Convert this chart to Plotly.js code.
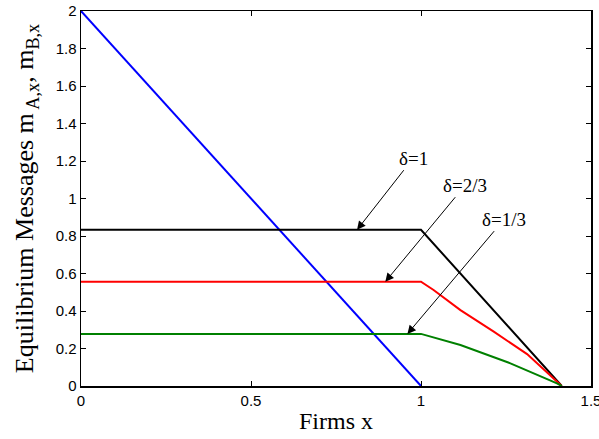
<!DOCTYPE html>
<html>
<head>
<meta charset="utf-8">
<script src="https://cdn.plot.ly/plotly-3.0.1.min.js"></script>
<style>
  html, body { margin: 0; padding: 0; background: #fff; }
  #chart { width: 599px; height: 439px; }
</style>
</head>
<body>
<div id="chart"></div>
<script>
(function() {
  // blue line
  var blueX = [0, 1];
  var blueY = [2, 0];

  // delta = 1
  var blackX = [0, 1, 1.414];
  var blackY = [0.833, 0.833, 0];

  // delta = 2/3
  var redX = [0, 1, 1.037, 1.116, 1.214, 1.312, 1.39, 1.414];
  var redY = [0.556, 0.556, 0.512, 0.405, 0.29, 0.17, 0.04, 0];

  // delta = 1/3
  var greenX = [0, 1, 1.116, 1.263, 1.4, 1.414];
  var greenY = [0.278, 0.278, 0.219, 0.121, 0.014, 0];

  var xTicks = [0, 0.5, 1, 1.5];
  var yTicks = [0, 0.2, 0.4, 0.6, 0.8, 1, 1.2, 1.4, 1.6, 1.8, 2];

  // labels: text, text centre (arrow tail side), arrow head
  var labels = [
    {t: 'δ=1',   tx: 0.977, ty: 1.215, hx: 0.812, hy: 0.833},
    {t: 'δ=2/3', tx: 1.13,  ty: 1.071, hx: 0.895, hy: 0.556},
    {t: 'δ=1/3', tx: 1.245, ty: 0.89,  hx: 0.96,  hy: 0.278}
  ];

  function line(x, y, color) {
    return {x: x, y: y, type: 'scatter', mode: 'lines',
            line: {color: color, width: 2}, hoverinfo: 'skip'};
  }

  var traces = [
    line(blueX, blueY, '#0000ff'),
    line(blackX, blackY, '#000000'),
    line(redX, redY, '#ff0000'),
    line(greenX, greenY, '#008000')
  ];

  var annotations = labels.map(function(l) {
    return {
      x: l.hx, y: l.hy, ax: l.tx, ay: l.ty, xref: 'x', yref: 'y',
      axref: 'x', ayref: 'y', text: l.t, showarrow: true,
      arrowhead: 2, arrowsize: 1.7, arrowwidth: 1, arrowcolor: '#000',
      font: {family: 'Liberation Serif, serif', size: 19, color: '#000'}
    };
  });

  var tickFont = {family: 'Liberation Sans, Arial, sans-serif', size: 15, color: '#000'};
  var axisBase = {
    showgrid: false, zeroline: false, showline: true, mirror: 'ticks',
    linecolor: '#000', linewidth: 1.5, ticks: 'inside', ticklen: 5,
    tickcolor: '#000', tickfont: tickFont, ticklabeloverflow: 'allow'
  };

  var layout = {
    width: 599, height: 439,
    margin: {l: 81, r: 8, t: 11, b: 53},
    showlegend: false,
    paper_bgcolor: '#fff', plot_bgcolor: '#fff',
    xaxis: Object.assign({}, axisBase, {
      range: [0, 1.5], tickvals: xTicks, ticktext: ['0', '0.5', '1', '1.5'],
      title: {text: 'Firms x', standoff: 4,
              font: {family: 'Liberation Serif, serif', size: 24, color: '#000'}}
    }),
    yaxis: Object.assign({}, axisBase, {
      range: [0, 2], tickvals: yTicks,
      ticktext: ['0', '0.2', '0.4', '0.6', '0.8', '1', '1.2', '1.4', '1.6', '1.8', '2'],
      title: {text: 'Equilibrium Messages m<sub> A,x</sub>, m<sub>B,x</sub>', standoff: 14,
              font: {family: 'Liberation Serif, serif', size: 26, color: '#000'}}
    }),
    annotations: annotations
  };

  Plotly.newPlot('chart', traces, layout, {displayModeBar: false, staticPlot: true});
})();
</script>
</body>
</html>
